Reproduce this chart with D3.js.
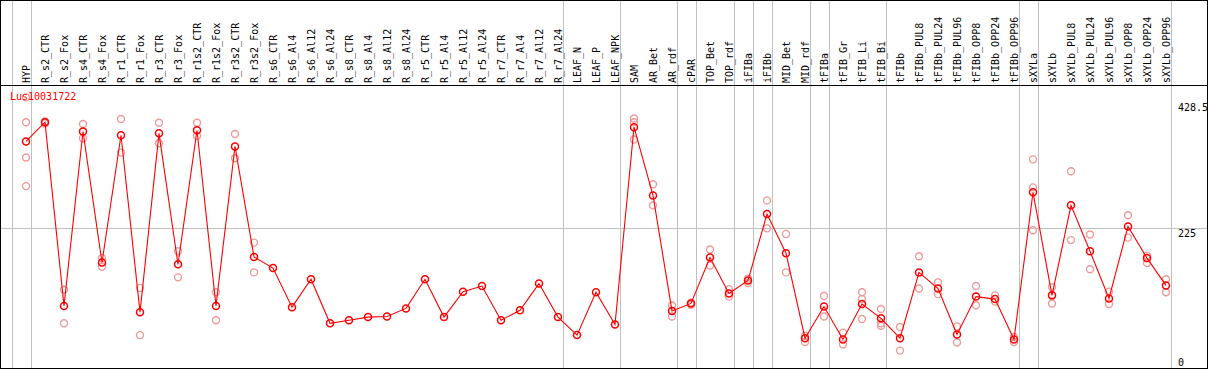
<!DOCTYPE html>
<html><head><meta charset="utf-8">
<script src="https://cdn.jsdelivr.net/npm/d3@7"></script>
<style>body{margin:0;background:#fff}svg{display:block}</style>
</head><body>
<svg id="c" width="1209" height="370"></svg>
<script>
const title = "Lus10031722";
const categories = ["HYP","R_s2_CTR","R_s2_Fox","R_s4_CTR","R_s4_Fox","R_r1_CTR","R_r1_Fox","R_r3_CTR","R_r3_Fox","R_r1s2_CTR","R_r1s2_Fox","R_r3s2_CTR","R_r3s2_Fox","R_s6_CTR","R_s6_Al4","R_s6_Al12","R_s6_Al24","R_s8_CTR","R_s8_Al4","R_s8_Al12","R_s8_Al24","R_r5_CTR","R_r5_Al4","R_r5_Al12","R_r5_Al24","R_r7_CTR","R_r7_Al4","R_r7_Al12","R_r7_Al24","LEAF_N","LEAF_P","LEAF_NPK","SAM","AR_Bet","AR_rdf","cPAR","TOP_Bet","TOP_rdf","iFIBa","iFIBb","MID_Bet","MID_rdf","tFIBa","tFIB_Gr","tFIB_Li","tFIB_Bi","tFIBb","tFIBb_PUL8","tFIBb_PUL24","tFIBb_PUL96","tFIBb_OPP8","tFIBb_OPP24","tFIBb_OPP96","sXYLa","sXYLb","sXYLb_PUL8","sXYLb_PUL24","sXYLb_PUL96","sXYLb_OPP8","sXYLb_OPP24","sXYLb_OPP96"];
const meanValues = [365,396,100,381,170,375,90,378,167,383,100,357,179,161,98,143,72,77,82,83,96,143,82,123,132,77,93,136,82,53,122,70,388,278,92,104,178,120,141,248,185,48,99,46,103,80,48,154,128,54,115,111,46,283,117,262,188,112,228,177,133];
const replicateValues = [
 [436,396,339,293],[397,394],[126,72],[393,370],[177,163],[401,347],[129,53],[395,362],[188,146],[395,374],[122,77],[377,338],[202,154],
 [],[],[],[],[],[],[],[],[],[],[],[],[],[],[],[],[],[],[],
 [402,396,368],[296,262],[101,83],[105,102],[191,165],[127,115],[144,137],[270,225],[216,154],[52,42],[116,83],[57,38],[122,111,79],[95,72,68],[66,28],
 [180,128],[138,119],[67,41],[132,101],[117,107],[50,42],[336,291,222],[130,104],[317,206],[215,159],[123,103],[246,210],[181,169],[143,122]
];
const groupEnds = [-1,0,28,31,34,35,37,38,39,41,42,45,52,53,60];
const tickValues = [428.5,225,0];
const tickLabels = ["428.5","225","0"];
const gridValues = [225];

const W = 1209, H = 370;
const svg = d3.select("#c");
const font = "'DejaVu Sans Mono', monospace";
const x = d3.scaleLinear().domain([0, 1]).range([26, 45]);
const y = d3.scaleLinear().domain([0, 428.5]).range([368, 102]);

// vertical group separators
svg.selectAll("line.vg").data(groupEnds).join("line")
  .attr("x1", d => Math.round(x(d) + 4.7) + 0.5).attr("x2", d => Math.round(x(d) + 4.7) + 0.5)
  .attr("y1", 1).attr("y2", 368).attr("stroke", "#c0c0c0").attr("stroke-width", 1);
// horizontal grid
svg.selectAll("line.hg").data(gridValues).join("line")
  .attr("x1", 1).attr("x2", 1207).attr("y1", d => Math.round(y(d)) + 0.5).attr("y2", d => Math.round(y(d)) + 0.5)
  .attr("stroke", "#c0c0c0").attr("stroke-width", 1);
// header separator
svg.append("line").attr("x1", 0).attr("x2", 1208).attr("y1", 85.5).attr("y2", 85.5).attr("stroke", "#000");

// column labels
svg.selectAll("text.cat").data(categories).join("text")
  .attr("transform", (d, i) => `translate(${x(i)},83) rotate(-90)`)
  .attr("dy", "0.35em").attr("font-family", font).attr("font-size", 10).attr("fill", "#000")
  .text(d => d);

// tick labels
svg.selectAll("text.tick").data(tickValues).join("text")
  .attr("x", 1178).attr("y", d => Math.min(y(d) + 8.8, 365.8))
  .attr("font-family", font).attr("font-size", 10).attr("fill", "#000")
  .text((d, i) => tickLabels[i]);

// replicates
const reps = [];
replicateValues.forEach((arr, i) => arr.forEach(v => reps.push({ i, v })));
svg.selectAll("circle.rep").data(reps).join("circle")
  .attr("cx", d => x(d.i)).attr("cy", d => y(d.v)).attr("r", 3.5)
  .attr("fill", "none").attr("stroke", "#ee9a9a").attr("stroke-width", 1.4);

// title
svg.append("text").attr("x", 10).attr("y", 100).attr("font-family", font).attr("font-size", 10)
  .attr("fill", "#ff0000").text(title);

// main line
svg.append("path").datum(meanValues)
  .attr("d", d3.line().x((d, i) => x(i)).y(d => y(d)))
  .attr("fill", "none").attr("stroke", "#ff0000").attr("stroke-width", 1.1);
svg.selectAll("circle.m").data(meanValues).join("circle")
  .attr("cx", (d, i) => x(i)).attr("cy", d => y(d)).attr("r", 3.5)
  .attr("fill", "none").attr("stroke", "#ff0000").attr("stroke-width", 1.5);

// border
svg.append("rect").attr("x", 0.5).attr("y", 0.5).attr("width", 1207).attr("height", 368)
  .attr("fill", "none").attr("stroke", "#000").attr("stroke-width", 1);
</script>
</body></html>
